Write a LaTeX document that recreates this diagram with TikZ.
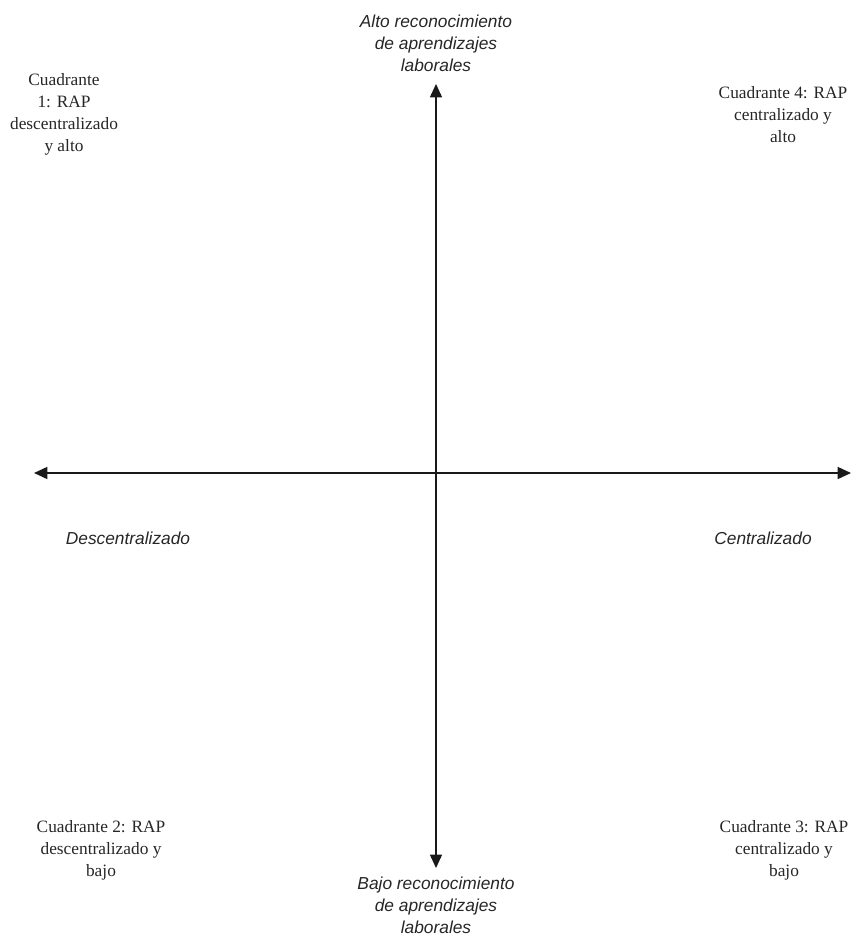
\documentclass[tikz,border=0pt]{standalone}
\usepackage{fontspec}
\setmainfont{Liberation Serif}
\setsansfont{Liberation Sans}
\usetikzlibrary{arrows.meta,positioning}

\begin{document}
\begin{tikzpicture}[x=0.75pt,y=-0.75pt,
    >={Triangle[length=10pt,width=9pt]}]
	\tikzstyle{axis}
	  =[line width=1.1pt, <->, color=black!90]
	\tikzstyle{axislabel}
	  =[font=\sffamily\itshape\fontsize{13}{16.5}\selectfont,
	  align=center, inner sep=0pt, text=black!85]
	\tikzstyle{quadrant}
	  =[font=\fontsize{13}{16.5}\selectfont,
	  align=center, inner sep=0pt, text=black!85]

	\useasboundingbox (0,0) rectangle (856,937);

	% axis ends
	\coordinate (N) at (436,84);
	\coordinate (S) at (436,868);
	\coordinate (W) at (34,473);
	\coordinate (E) at (851,473);

	\draw[axis] (S) -- (N);
	\draw[axis] (W) -- (E);

	% axis labels
	\node[axislabel] (alto) at (436,43)
	  {Alto reconocimiento\\de aprendizajes\\laborales};
	\node[axislabel] (bajo) at (436,905)
	  {Bajo reconocimiento\\de aprendizajes\\laborales};
	\node[axislabel] (descentr) at (128,538)
	  {Descentralizado};
	\node[axislabel] (centr) at (763,538)
	  {Centralizado};

	% quadrants
	\node[quadrant] (q1) at (64,114)
	  {Cuadrante\\1: RAP\\descentralizado\\y alto};
	\node[quadrant] (q4) at (783,115)
	  {Cuadrante 4: RAP\\centralizado y\\alto};
	\node[quadrant] (q2) at (101,850)
	  {Cuadrante 2: RAP\\descentralizado y\\bajo};
	\node[quadrant] (q3) at (784,850)
	  {Cuadrante 3: RAP\\centralizado y\\bajo};
\end{tikzpicture}
\end{document}
